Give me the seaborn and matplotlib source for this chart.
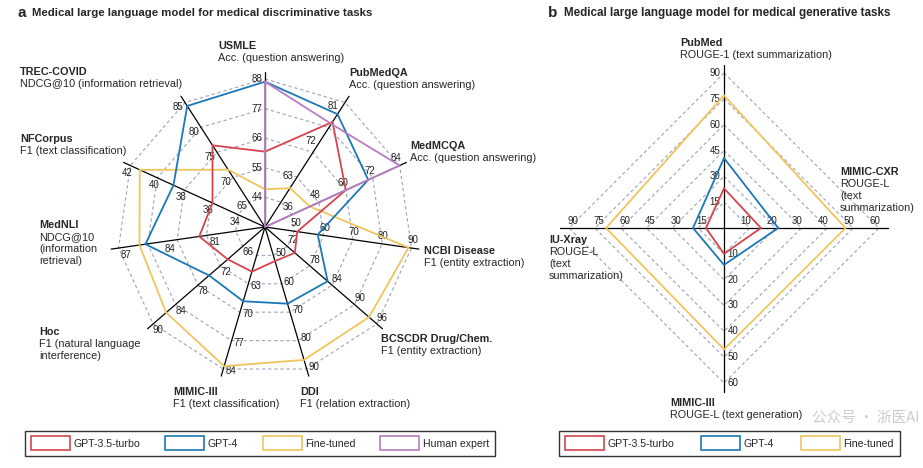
import matplotlib
matplotlib.use("Agg")
import matplotlib.pyplot as plt
from matplotlib.patches import Patch
import seaborn as sns
import numpy as np
import pandas as pd

# ---- panel a: discriminative tasks (spokes clockwise from the top)
tasks_a = ["USMLE", "PubMedQA", "MedMCQA", "NCBI Disease", "BCSCDR Drug/Chem.", "DDI",
           "MIMIC-III", "Hoc", "MedNLI", "NFCorpus", "TREC-COVID"]
metrics_a = ["Acc. (question answering)", "Acc. (question answering)",
             "Acc. (question answering)", "F1 (entity extraction)",
             "F1 (entity extraction)", "F1 (relation extraction)",
             "F1 (text classification)", "F1 (natural language\ninterference)",
             "NDCG@10\n(information\nretrieval)", "F1 (text classification)",
             "NDCG@10 (information retrieval)"]
ticks_a = [[44, 55, 66, 77, 88], [63, 72, 81], [36, 48, 60, 72, 84],
           [50, 60, 70, 80, 90], [72, 78, 84, 90, 96], [50, 60, 70, 80, 90],
           [63, 70, 77, 84], [66, 72, 78, 84, 90], [81, 84, 87],
           [34, 36, 38, 40, 42], [65, 70, 75, 80, 85]]
# value at the centre / at the outer ring of each spoke
lo_a = [33, 51, 24, 40, 66, 40, 49, 60, 77.6, 32, 60]
hi_a = [88, 83, 84, 90, 96, 90, 84, 90, 87.4, 42, 85]

gpt35_a = [61, 78, 60, 51, 74, 52, 60, 70, 82, 35.9, 76.4]
gpt4_a = [87, 80, 70, 58, 82.8, 67, 67.3, 75, 85.6, 38.8, 84.3]
finetuned_a = [47, 61, 44, 89, 93.9, 86.8, 83.3, 86.5, 86, 41.3, 71.5]
human_a = [87, 77.5, 84, np.nan, np.nan, np.nan, np.nan, np.nan, np.nan, np.nan, np.nan]

# ---- panel b: generative tasks (top, right, bottom, left)
tasks_b = ["PubMed", "MIMIC-CXR", "MIMIC-Ill", "IU-Xray"]
metrics_b = ["ROUGE-1 (text summarization)", "ROUGE-L\n(text\nsummarization)",
             "ROUGE-L (text generation)", "ROUGE-L\n(text\nsummarization)"]
ticks_b = [[15, 30, 45, 60, 75, 90], [10, 20, 30, 40, 50, 60],
           [10, 20, 30, 40, 50, 60], [15, 30, 45, 60, 75, 90]]
hi_b = [90, 60, 60, 90]

gpt35_b = [23, 14.3, 10, 10.5]
gpt4_b = [40.6, 21, 14.3, 18]
finetuned_b = [77, 47, 47, 68.5]

models = ["GPT-3.5-turbo", "GPT-4", "Fine-tuned", "Human expert"]
colors = {"GPT-3.5-turbo": "#d6434f", "GPT-4": "#1b78b8",
          "Fine-tuned": "#efc55c", "Human expert": "#b77cc3"}

sns.set_theme(style="white")
plt.rcParams["font.family"] = ["Liberation Sans", "DejaVu Sans"]

W, H = 923, 468
fig = plt.figure(figsize=(W / 100, H / 100), dpi=100)
GRID = "#9ea3b8"


def make_panel(cx, cy, R):
    ax = fig.add_axes([0, 0, 1, 1])
    ax.set_axis_off()
    ax.patch.set_alpha(0)
    lims = ((-cx / R, (W - cx) / R), (-(H - cy) / R, cy / R))
    return ax, lims


def radar_frame(series, angles, scale):
    rows = []
    for name, vals in series.items():
        rs = [0.0 if np.isnan(v) else scale(i, v) for i, v in enumerate(vals)]
        for k in list(range(len(vals))) + [0]:
            rows.append({"model": name, "x": rs[k] * np.cos(angles[k]),
                         "y": rs[k] * np.sin(angles[k])})
    return pd.DataFrame(rows)


def fig_text(x, y, s, **kw):
    fig.text(x / W, 1 - y / H, s, **kw)


# ================= panel a =================
Ra = 148
ax_a, lims_a = make_panel(265, 227, Ra)
n = len(tasks_a)
ang_a = np.deg2rad(90 - 360 / n * np.arange(n))

for k in range(1, 6):
    rr = k / 5
    xs = np.r_[rr * np.cos(ang_a), rr * np.cos(ang_a[0])]
    ys = np.r_[rr * np.sin(ang_a), rr * np.sin(ang_a[0])]
    ax_a.plot(xs, ys, color=GRID, lw=0.8, dashes=(3, 2.5), zorder=1)
for a in ang_a:
    ax_a.plot([0, 1.05 * np.cos(a)], [0, 1.05 * np.sin(a)], color="black", lw=0.9, zorder=2)

off = 8 / Ra
for i, a in enumerate(ang_a):
    for t in ticks_a[i]:
        rr = (t - lo_a[i]) / (hi_a[i] - lo_a[i])
        ax_a.text(rr * np.cos(a) - off * np.sin(a), rr * np.sin(a) + off * np.cos(a), str(t),
                  fontsize=7, ha="center", va="center", color="#222222", zorder=3)

series_a = {"Fine-tuned": finetuned_a, "GPT-4": gpt4_a,
            "GPT-3.5-turbo": gpt35_a, "Human expert": human_a}
df_a = radar_frame(series_a, ang_a,
                   lambda i, v: (v - lo_a[i]) / (hi_a[i] - lo_a[i]))
sns.lineplot(data=df_a, x="x", y="y", hue="model", palette=colors, sort=False,
             estimator=None, lw=1.3, legend=False, ax=ax_a, zorder=4)
ax_a.set_xlim(*lims_a[0])
ax_a.set_ylim(*lims_a[1])

name_pos_a = [(218, 46), (349, 73), (410, 146), (424, 251), (381, 339), (300, 392),
              (173, 392), (39, 332), (39, 225), (20, 139), (20, 72)]
for (x, y), name, met in zip(name_pos_a, tasks_a, metrics_a):
    fig_text(x, y, name, fontsize=7.8, fontweight="bold", va="center", ha="left")
    fig_text(x, y + 7, met, fontsize=7.8, va="top", ha="left", linespacing=1.25)

# ================= panel b =================
Rb = 155
ax_b, lims_b = make_panel(724, 228, Rb)
ang_b = np.deg2rad([90, 0, -90, 180])

for k in range(1, 7):
    rr = k / 6
    ax_b.plot([0, rr, 0, -rr, 0], [rr, 0, -rr, 0, rr], color=GRID, lw=0.8,
              dashes=(3, 2.5), zorder=1)
ax_b.plot([0, 0], [-1.06, 1.05], color="black", lw=0.9, zorder=2)
ax_b.plot([-1.06, 1.06], [0, 0], color="black", lw=0.9, zorder=2)

p = 1 / Rb
for i, a in enumerate(ang_b):
    for t in ticks_b[i]:
        rr = t / hi_b[i]
        if i == 0:
            xy = (-9 * p, rr)
        elif i == 1:
            xy = (rr - 4 * p, 7 * p)
        elif i == 2:
            xy = (9 * p, -rr)
        else:
            xy = (-rr + 4 * p, 7 * p)
        ax_b.text(*xy, str(t), fontsize=7, ha="center", va="center",
                  color="#222222", zorder=3)

series_b = {"Fine-tuned": finetuned_b, "GPT-4": gpt4_b, "GPT-3.5-turbo": gpt35_b}
df_b = radar_frame(series_b, ang_b, lambda i, v: v / hi_b[i])
sns.lineplot(data=df_b, x="x", y="y", hue="model", palette=colors, sort=False,
             estimator=None, lw=1.3, legend=False, ax=ax_b, zorder=4)
ax_b.set_xlim(*lims_b[0])
ax_b.set_ylim(*lims_b[1])

name_pos_b = [(680, 43), (840, 172), (670, 403), (549, 240)]
for (x, y), name, met in zip(name_pos_b, tasks_b, metrics_b):
    fig_text(x, y, name, fontsize=7.8, fontweight="bold", va="center", ha="left")
    fig_text(x, y + 7, met, fontsize=7.8, va="top", ha="left", linespacing=1.25)

# ---- titles
fig_text(17, 13, "a", fontsize=11, fontweight="bold", va="center")
fig_text(32, 13, "Medical large language model for medical discriminative tasks",
         fontsize=8.2, fontweight="bold", va="center")
fig_text(548, 13, "b", fontsize=11, fontweight="bold", va="center")
fig_text(564, 13, "Medical large language model for medical generative tasks",
         fontsize=8.4, fontweight="bold", va="center")

# ---- legends


def boxed_legend(names, x0, x1):
    handles = [Patch(facecolor="white", edgecolor=colors[m], lw=1.2, label=m) for m in names]
    leg = fig.legend(handles=handles, ncol=len(names), loc="lower left",
                     bbox_to_anchor=(x0 / W, 1 - 461 / H, (x1 - x0) / W, 31 / H),
                     mode="expand", fontsize=7.6, handlelength=3.7, handleheight=1.6,
                     handletextpad=0.3, borderpad=0.55, frameon=True, fancybox=False)
    leg.get_frame().set_edgecolor("black")
    leg.get_frame().set_linewidth(1.0)
    return leg


boxed_legend(models, 20, 500)
boxed_legend(models[:3], 554, 905)

# watermark as in the source picture
fig_text(812, 418, "公众号 · 浙医AI", fontsize=10.5, color="#c4c4c4", alpha=0.85,
         va="center", family=["Noto Sans CJK SC", "DejaVu Sans"], zorder=10)

fig.savefig("out.png", dpi=100)
